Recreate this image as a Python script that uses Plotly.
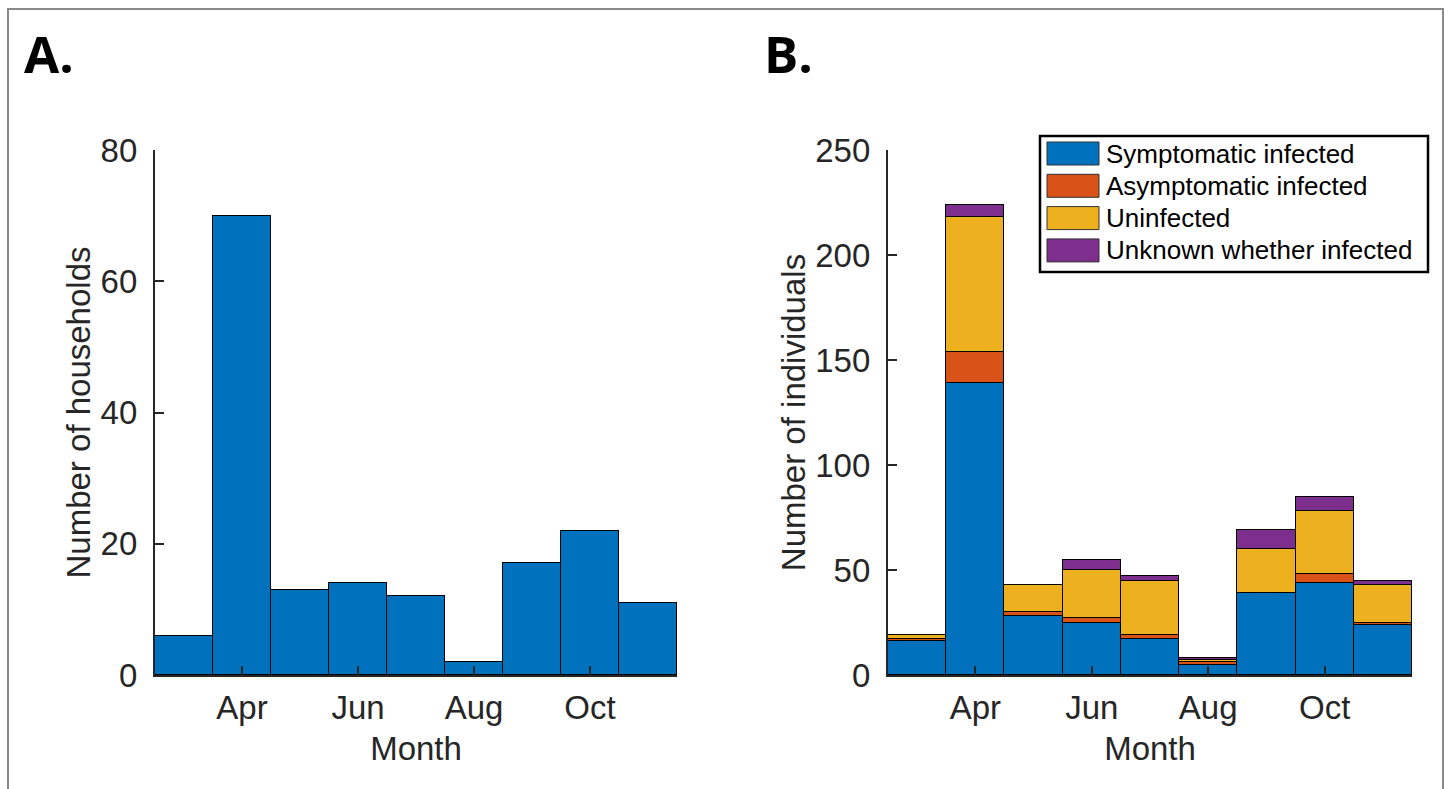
import plotly.graph_objects as go

W, H = 1448, 789

# Month numbers (Mar..Nov) and the labelled ticks
months = [3, 4, 5, 6, 7, 8, 9, 10, 11]
tick_vals = [4, 6, 8, 10]
tick_text = ["Apr", "Jun", "Aug", "Oct"]

# Panel A: households per month
households = [6, 70, 13, 14, 12, 2, 17, 22, 11]

# Panel B: individuals per month by infection status
symptomatic = [16, 139, 28, 25, 17, 5, 39, 44, 24]
asymptomatic = [1, 15, 2, 2, 2, 1, 0, 4, 1]
uninfected = [2, 64, 13, 23, 26, 1, 21, 30, 18]
unknown = [0, 6, 0, 5, 2, 1, 9, 7, 2]

series_names = ["Symptomatic infected", "Asymptomatic infected",
                "Uninfected", "Unknown whether infected"]
series_colors = ["#0072BD", "#D95319", "#EDB120", "#7E2F8E"]

FONT = "Liberation Sans, Arial, Helvetica, sans-serif"
INK = "#262626"


def px(x):
    return x / W


def py(y):
    return 1 - y / H


fig = go.Figure()

fig.add_trace(go.Bar(
    x=months, y=households, width=1, marker=dict(color=series_colors[0],
    line=dict(color="black", width=1.2)), showlegend=False,
    xaxis="x", yaxis="y"))

for name, vals, col in zip(series_names,
                           [symptomatic, asymptomatic, uninfected, unknown],
                           series_colors):
    fig.add_trace(go.Bar(
        x=months, y=vals, width=1, name=name,
        marker=dict(color=col, line=dict(color="black", width=1.2)),
        showlegend=False, xaxis="x2", yaxis="y2"))

axis_common = dict(
    showline=True, linecolor=INK, linewidth=2.2, ticks="inside", ticklen=9,
    tickwidth=2.2, tickcolor=INK, showgrid=False, zeroline=False,
    automargin=False,
    tickfont=dict(family=FONT, size=33, color=INK),
    title_font=dict(family=FONT, size=33, color=INK),
)

xcommon = dict(axis_common, range=[2.5, 11.5], tickvals=tick_vals,
               ticktext=tick_text, ticklabelstandoff=2,
               title=dict(text="Month", standoff=12))

fig.update_layout(
    width=W, height=H, margin=dict(l=0, r=0, t=0, b=0),
    paper_bgcolor="white", plot_bgcolor="white", barmode="stack", bargap=0,
    xaxis=dict(xcommon, domain=[px(155), px(677)], anchor="y"),
    yaxis=dict(axis_common, domain=[py(675), py(150)], range=[0, 80],
               dtick=20, anchor="x", ticklabelstandoff=9,
               title=dict(text="Number of households", standoff=0)),
    xaxis2=dict(xcommon, domain=[px(888), px(1412)], anchor="y2"),
    yaxis2=dict(axis_common, domain=[py(675), py(150)], range=[0, 250],
                dtick=50, anchor="x2", ticklabelstandoff=9,
                title=dict(text="Number of individuals", standoff=0)),
)

shapes = [
    # outer frame
    dict(type="rect", xref="paper", yref="paper", x0=px(8), x1=px(1443),
         y0=py(800), y1=py(9), line=dict(color="#8a8a8a", width=2),
         fillcolor="rgba(0,0,0,0)", layer="below"),
    # legend box
    dict(type="rect", xref="paper", yref="paper", x0=px(1040), x1=px(1428),
         y0=py(272), y1=py(136), line=dict(color="black", width=2.5),
         fillcolor="white", layer="above"),
]
annotations = [
    dict(text="<b>A.</b>", x=px(22), y=py(53), xref="paper", yref="paper",
         xanchor="left", yanchor="middle", showarrow=False,
         font=dict(family="Open Sans, sans-serif", size=51, color="black")),
    dict(text="<b>B.</b>", x=px(762), y=py(53), xref="paper", yref="paper",
         xanchor="left", yanchor="middle", showarrow=False,
         font=dict(family="Open Sans, sans-serif", size=51, color="black")),
]

# legend entries
row0, pitch = 153.5, 32.3
for i, (name, col) in enumerate(zip(series_names, series_colors)):
    cy = row0 + i * pitch
    shapes.append(dict(type="rect", xref="paper", yref="paper",
                       x0=px(1047), x1=px(1099), y0=py(cy + 11.5),
                       y1=py(cy - 11.5), fillcolor=col,
                       line=dict(color="#333333", width=1), layer="above"))
    annotations.append(dict(text=name, x=px(1104), y=py(cy), xref="paper",
                            yref="paper", xanchor="left", yanchor="middle",
                            showarrow=False,
                            font=dict(family=FONT, size=26, color="black")))

fig.update_layout(shapes=shapes, annotations=annotations)

fig.write_html("out.html")
